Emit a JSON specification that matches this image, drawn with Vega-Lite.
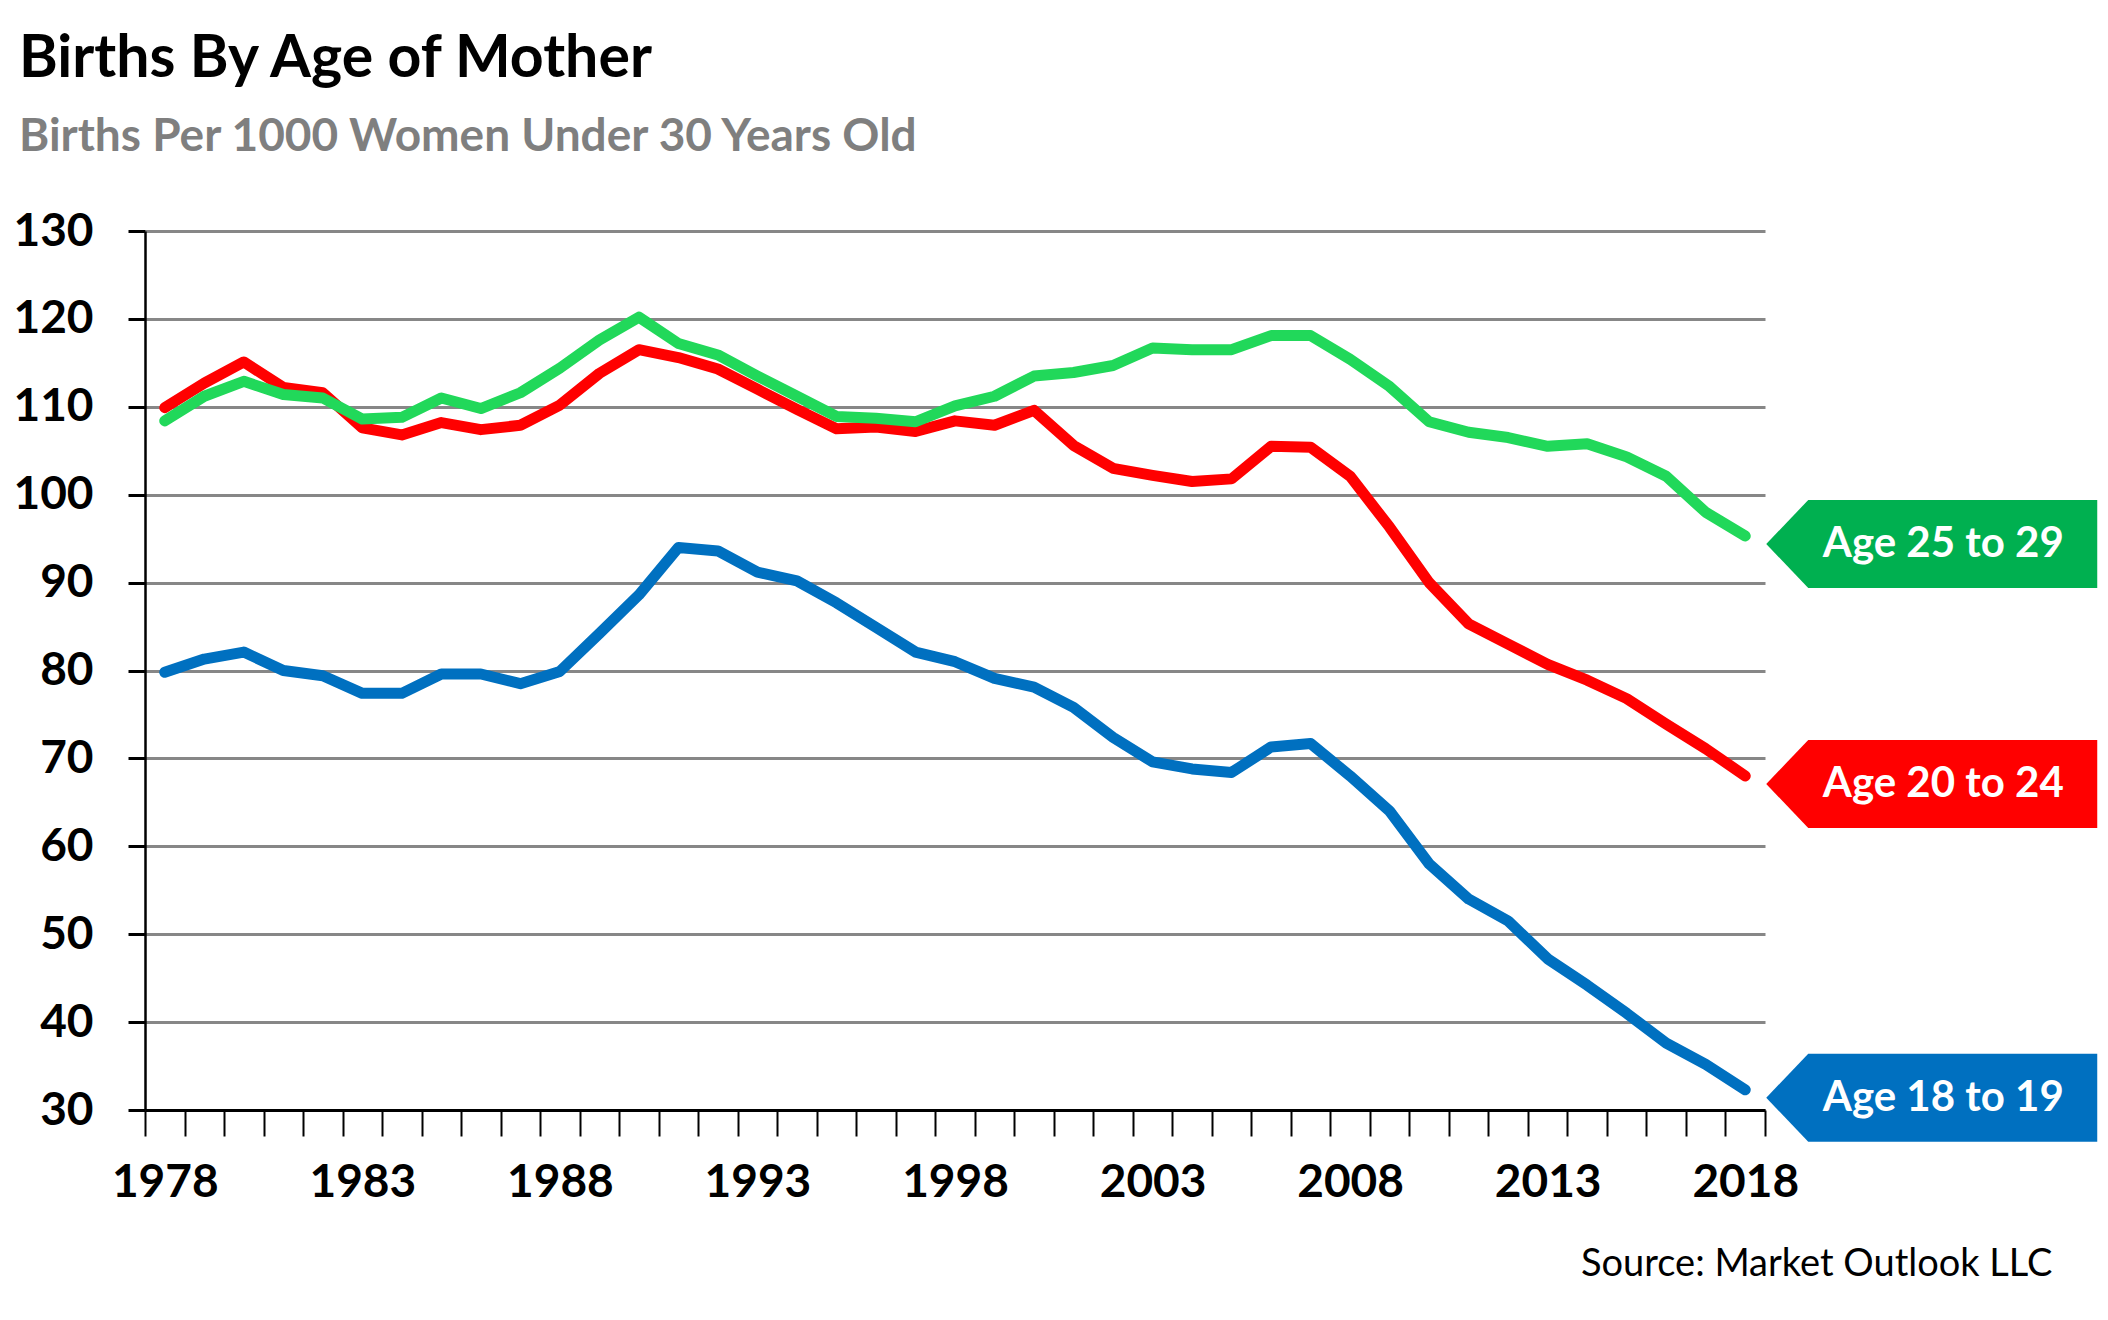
{
  "$schema": "https://vega.github.io/schema/vega-lite/v6.json",
  "width": 1620,
  "height": 879,
  "autosize": {"type": "none"},
  "padding": {"left": 145, "top": 231, "right": 343, "bottom": 210},
  "background": "white",
  "title": {
    "text": "Births By Age of Mother",
    "subtitle": "Births Per 1000 Women Under 30 Years Old",
    "anchor": "start",
    "frame": "group",
    "dx": -126,
    "offset": 48,
    "font": "Lato",
    "fontSize": 59,
    "fontWeight": "bold",
    "color": "black",
    "subtitleFont": "Lato",
    "subtitleFontSize": 46,
    "subtitleFontWeight": "bold",
    "subtitleColor": "#7F7F7F",
    "subtitlePadding": 26
  },
  "data": {
    "values": [
      {"year": 1978, "age": "Age 18 to 19", "rate": 79.8},
      {"year": 1979, "age": "Age 18 to 19", "rate": 81.3},
      {"year": 1980, "age": "Age 18 to 19", "rate": 82.1},
      {"year": 1981, "age": "Age 18 to 19", "rate": 80.0},
      {"year": 1982, "age": "Age 18 to 19", "rate": 79.4},
      {"year": 1983, "age": "Age 18 to 19", "rate": 77.4},
      {"year": 1984, "age": "Age 18 to 19", "rate": 77.4},
      {"year": 1985, "age": "Age 18 to 19", "rate": 79.6},
      {"year": 1986, "age": "Age 18 to 19", "rate": 79.6},
      {"year": 1987, "age": "Age 18 to 19", "rate": 78.5},
      {"year": 1988, "age": "Age 18 to 19", "rate": 79.9},
      {"year": 1989, "age": "Age 18 to 19", "rate": 84.2},
      {"year": 1990, "age": "Age 18 to 19", "rate": 88.6},
      {"year": 1991, "age": "Age 18 to 19", "rate": 94.0},
      {"year": 1992, "age": "Age 18 to 19", "rate": 93.6},
      {"year": 1993, "age": "Age 18 to 19", "rate": 91.2},
      {"year": 1994, "age": "Age 18 to 19", "rate": 90.2},
      {"year": 1995, "age": "Age 18 to 19", "rate": 87.7},
      {"year": 1996, "age": "Age 18 to 19", "rate": 84.9},
      {"year": 1997, "age": "Age 18 to 19", "rate": 82.1},
      {"year": 1998, "age": "Age 18 to 19", "rate": 81.0},
      {"year": 1999, "age": "Age 18 to 19", "rate": 79.1},
      {"year": 2000, "age": "Age 18 to 19", "rate": 78.1},
      {"year": 2001, "age": "Age 18 to 19", "rate": 75.8},
      {"year": 2002, "age": "Age 18 to 19", "rate": 72.4},
      {"year": 2003, "age": "Age 18 to 19", "rate": 69.6},
      {"year": 2004, "age": "Age 18 to 19", "rate": 68.8},
      {"year": 2005, "age": "Age 18 to 19", "rate": 68.4},
      {"year": 2006, "age": "Age 18 to 19", "rate": 71.3},
      {"year": 2007, "age": "Age 18 to 19", "rate": 71.7},
      {"year": 2008, "age": "Age 18 to 19", "rate": 68.0},
      {"year": 2009, "age": "Age 18 to 19", "rate": 64.0},
      {"year": 2010, "age": "Age 18 to 19", "rate": 58.0},
      {"year": 2011, "age": "Age 18 to 19", "rate": 54.0},
      {"year": 2012, "age": "Age 18 to 19", "rate": 51.5},
      {"year": 2013, "age": "Age 18 to 19", "rate": 47.2},
      {"year": 2014, "age": "Age 18 to 19", "rate": 44.2},
      {"year": 2015, "age": "Age 18 to 19", "rate": 41.0},
      {"year": 2016, "age": "Age 18 to 19", "rate": 37.6},
      {"year": 2017, "age": "Age 18 to 19", "rate": 35.2},
      {"year": 2018, "age": "Age 18 to 19", "rate": 32.3},
      {"year": 1978, "age": "Age 20 to 24", "rate": 109.9},
      {"year": 1979, "age": "Age 20 to 24", "rate": 112.7},
      {"year": 1980, "age": "Age 20 to 24", "rate": 115.1},
      {"year": 1981, "age": "Age 20 to 24", "rate": 112.2},
      {"year": 1982, "age": "Age 20 to 24", "rate": 111.6},
      {"year": 1983, "age": "Age 20 to 24", "rate": 107.6},
      {"year": 1984, "age": "Age 20 to 24", "rate": 106.8},
      {"year": 1985, "age": "Age 20 to 24", "rate": 108.2},
      {"year": 1986, "age": "Age 20 to 24", "rate": 107.4},
      {"year": 1987, "age": "Age 20 to 24", "rate": 107.9},
      {"year": 1988, "age": "Age 20 to 24", "rate": 110.2},
      {"year": 1989, "age": "Age 20 to 24", "rate": 113.8},
      {"year": 1990, "age": "Age 20 to 24", "rate": 116.5},
      {"year": 1991, "age": "Age 20 to 24", "rate": 115.6},
      {"year": 1992, "age": "Age 20 to 24", "rate": 114.3},
      {"year": 1993, "age": "Age 20 to 24", "rate": 112.0},
      {"year": 1994, "age": "Age 20 to 24", "rate": 109.7},
      {"year": 1995, "age": "Age 20 to 24", "rate": 107.5},
      {"year": 1996, "age": "Age 20 to 24", "rate": 107.7},
      {"year": 1997, "age": "Age 20 to 24", "rate": 107.2},
      {"year": 1998, "age": "Age 20 to 24", "rate": 108.4},
      {"year": 1999, "age": "Age 20 to 24", "rate": 107.9},
      {"year": 2000, "age": "Age 20 to 24", "rate": 109.6},
      {"year": 2001, "age": "Age 20 to 24", "rate": 105.6},
      {"year": 2002, "age": "Age 20 to 24", "rate": 103.0},
      {"year": 2003, "age": "Age 20 to 24", "rate": 102.2},
      {"year": 2004, "age": "Age 20 to 24", "rate": 101.5},
      {"year": 2005, "age": "Age 20 to 24", "rate": 101.8},
      {"year": 2006, "age": "Age 20 to 24", "rate": 105.5},
      {"year": 2007, "age": "Age 20 to 24", "rate": 105.4},
      {"year": 2008, "age": "Age 20 to 24", "rate": 102.1},
      {"year": 2009, "age": "Age 20 to 24", "rate": 96.3},
      {"year": 2010, "age": "Age 20 to 24", "rate": 90.0},
      {"year": 2011, "age": "Age 20 to 24", "rate": 85.3},
      {"year": 2012, "age": "Age 20 to 24", "rate": 83.0},
      {"year": 2013, "age": "Age 20 to 24", "rate": 80.7},
      {"year": 2014, "age": "Age 20 to 24", "rate": 78.9},
      {"year": 2015, "age": "Age 20 to 24", "rate": 76.8},
      {"year": 2016, "age": "Age 20 to 24", "rate": 73.9},
      {"year": 2017, "age": "Age 20 to 24", "rate": 71.1},
      {"year": 2018, "age": "Age 20 to 24", "rate": 68.0},
      {"year": 1978, "age": "Age 25 to 29", "rate": 108.4},
      {"year": 1979, "age": "Age 25 to 29", "rate": 111.2},
      {"year": 1980, "age": "Age 25 to 29", "rate": 112.9},
      {"year": 1981, "age": "Age 25 to 29", "rate": 111.4},
      {"year": 1982, "age": "Age 25 to 29", "rate": 111.0},
      {"year": 1983, "age": "Age 25 to 29", "rate": 108.6},
      {"year": 1984, "age": "Age 25 to 29", "rate": 108.8},
      {"year": 1985, "age": "Age 25 to 29", "rate": 111.0},
      {"year": 1986, "age": "Age 25 to 29", "rate": 109.8},
      {"year": 1987, "age": "Age 25 to 29", "rate": 111.6},
      {"year": 1988, "age": "Age 25 to 29", "rate": 114.4},
      {"year": 1989, "age": "Age 25 to 29", "rate": 117.6},
      {"year": 1990, "age": "Age 25 to 29", "rate": 120.2},
      {"year": 1991, "age": "Age 25 to 29", "rate": 117.2},
      {"year": 1992, "age": "Age 25 to 29", "rate": 115.9},
      {"year": 1993, "age": "Age 25 to 29", "rate": 113.5},
      {"year": 1994, "age": "Age 25 to 29", "rate": 111.2},
      {"year": 1995, "age": "Age 25 to 29", "rate": 108.9},
      {"year": 1996, "age": "Age 25 to 29", "rate": 108.7},
      {"year": 1997, "age": "Age 25 to 29", "rate": 108.3},
      {"year": 1998, "age": "Age 25 to 29", "rate": 110.1},
      {"year": 1999, "age": "Age 25 to 29", "rate": 111.2},
      {"year": 2000, "age": "Age 25 to 29", "rate": 113.5},
      {"year": 2001, "age": "Age 25 to 29", "rate": 113.9},
      {"year": 2002, "age": "Age 25 to 29", "rate": 114.7},
      {"year": 2003, "age": "Age 25 to 29", "rate": 116.7},
      {"year": 2004, "age": "Age 25 to 29", "rate": 116.5},
      {"year": 2005, "age": "Age 25 to 29", "rate": 116.5},
      {"year": 2006, "age": "Age 25 to 29", "rate": 118.1},
      {"year": 2007, "age": "Age 25 to 29", "rate": 118.1},
      {"year": 2008, "age": "Age 25 to 29", "rate": 115.4},
      {"year": 2009, "age": "Age 25 to 29", "rate": 112.3},
      {"year": 2010, "age": "Age 25 to 29", "rate": 108.3},
      {"year": 2011, "age": "Age 25 to 29", "rate": 107.1},
      {"year": 2012, "age": "Age 25 to 29", "rate": 106.5},
      {"year": 2013, "age": "Age 25 to 29", "rate": 105.5},
      {"year": 2014, "age": "Age 25 to 29", "rate": 105.8},
      {"year": 2015, "age": "Age 25 to 29", "rate": 104.3},
      {"year": 2016, "age": "Age 25 to 29", "rate": 102.1},
      {"year": 2017, "age": "Age 25 to 29", "rate": 98.0},
      {"year": 2018, "age": "Age 25 to 29", "rate": 95.3}
    ]
  },
  "layer": [
    {
      "mark": {"type": "line", "strokeWidth": 11, "strokeCap": "round", "strokeJoin": "round"},
      "encoding": {
        "x": {
          "field": "year",
          "type": "ordinal",
          "bandPosition": 0.5,
          "scale": {"type": "band", "paddingInner": 0, "paddingOuter": 0},
          "axis": {
            "title": "Source: Market Outlook LLC",
            "titleFont": "Lato",
            "titleFontWeight": "normal",
            "titleFontSize": 38,
            "titleColor": "black",
            "titleAnchor": "end",
            "titleAlign": "right",
            "titleBaseline": "alphabetic",
            "titleX": 1907,
            "titleY": 165,
            "labelExpr": "(datum.value - 1978) % 5 == 0 ? datum.label : ''",
            "labelAngle": 0,
            "labelFont": "Lato",
            "labelFontSize": 46,
            "labelFontWeight": "bold",
            "labelColor": "black",
            "labelPadding": 24,
            "labelOverlap": false,
            "tickBand": "extent",
            "tickSize": 26,
            "tickWidth": 2,
            "tickColor": "black",
            "domainColor": "black",
            "domainWidth": 3,
            "grid": false
          }
        },
        "y": {
          "field": "rate",
          "type": "quantitative",
          "scale": {"domain": [30, 130], "nice": false, "zero": false},
          "axis": {
            "title": null,
            "values": [30, 40, 50, 60, 70, 80, 90, 100, 110, 120, 130],
            "labelFont": "Lato",
            "labelFontSize": 46,
            "labelFontWeight": "bold",
            "labelColor": "black",
            "labelPadding": 35,
            "tickSize": 17,
            "tickWidth": 3,
            "tickColor": "black",
            "domainColor": "black",
            "domainWidth": 2.5,
            "grid": true,
            "gridColor": "#878787",
            "gridWidth": 3
          }
        },
        "color": {
          "field": "age",
          "type": "nominal",
          "scale": {
            "domain": ["Age 18 to 19", "Age 20 to 24", "Age 25 to 29"],
            "range": ["#0070C0", "#FF0000", "#21D85A"]
          },
          "legend": null
        }
      }
    },
    {
      "transform": [{"filter": "datum.year == 2018"}],
      "mark": {
        "type": "point",
        "shape": "M0.0525,0.02 L0.1575,-0.09 L0.88,-0.09 L0.88,0.13 L0.1575,0.13 Z",
        "size": 640000,
        "filled": true,
        "opacity": 1,
        "strokeWidth": 0
      },
      "encoding": {
        "x": {"field": "year", "type": "ordinal", "bandPosition": 0.5},
        "y": {"field": "rate", "type": "quantitative"},
        "fill": {
          "field": "age",
          "type": "nominal",
          "scale": {
            "domain": ["Age 18 to 19", "Age 20 to 24", "Age 25 to 29"],
            "range": ["#0070C0", "#FF0000", "#00B050"]
          },
          "legend": null
        }
      }
    },
    {
      "transform": [{"filter": "datum.year == 2018"}],
      "mark": {
        "type": "text",
        "dx": 198,
        "dy": 8,
        "align": "center",
        "baseline": "middle",
        "font": "Lato",
        "fontSize": 42,
        "fontWeight": "bold",
        "color": "white"
      },
      "encoding": {
        "x": {"field": "year", "type": "ordinal", "bandPosition": 0.5},
        "y": {"field": "rate", "type": "quantitative"},
        "text": {"field": "age"}
      }
    }
  ],
  "config": {
    "view": {"stroke": null}
  }
}
